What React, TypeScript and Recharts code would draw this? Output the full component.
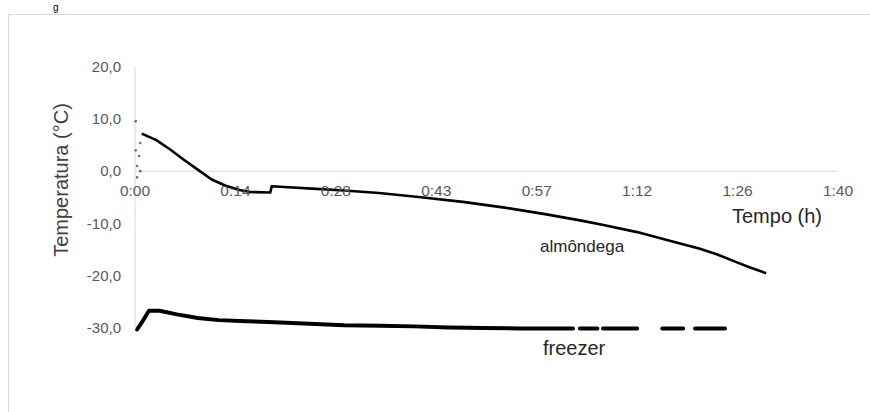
import { ComposedChart, Line, Scatter, XAxis, YAxis, ReferenceLine } from 'recharts'

// time axis in minutes, temperature in °C
const timeTicks = [0, 14.4, 28.8, 43.2, 57.6, 72, 86.4, 100.8]
const timeTickLabels = ['0:00', '0:14', '0:28', '0:43', '0:57', '1:12', '1:26', '1:40']
const tempTicks = [-30, -20, -10, 0, 10, 20]
const tempTickLabels = ['-30,0', '-20,0', '-10,0', '0,0', '10,0', '20,0']

const almondegaTime = [0.96, 3, 5, 7, 9.3, 11, 13, 15, 16.5, 19.4, 19.6, 22, 26, 30, 35, 41, 47, 53, 59, 64, 67, 72, 76, 81, 83.5, 86.5, 88, 90.5]
const almondegaTemp = [7.2, 6.0, 4.2, 2.2, 0, -1.6, -2.8, -3.6, -4.0, -4.1, -2.9, -3.1, -3.4, -3.7, -4.2, -5.0, -5.9, -7.0, -8.3, -9.5, -10.3, -11.7, -13.1, -14.9, -16.0, -17.6, -18.4, -19.6]

// null = gap in the logger record
const freezerTime = [0.3, 1, 2, 3.5, 6, 9, 12, 16, 20, 25, 30, 35, 40, 45, 50, 55, 62.8, 63.3, 63.8, 66.3, 66.7, 67.1, 72, 73.8, 75.6, 78.6, 79.5, 80.3, 84.6]
const freezerTemp = [-30.4, -29, -26.8, -26.8, -27.5, -28.2, -28.6, -28.8, -29.0, -29.3, -29.6, -29.7, -29.8, -30.0, -30.1, -30.2, -30.2, null, -30.2, -30.2, null, -30.2, -30.2, null, -30.2, -30.2, null, -30.2, -30.2]

const probeTime = [0.1, 0.75, 0.1, 0.6, 0.3, 0.75, 0.3]
const probeTemp = [9.6, 5.4, 4.0, 2.9, 1.0, 0.0, -1.2]

const almondegaData = almondegaTime.map((t, i) => ({ t, T: almondegaTemp[i] }))
const freezerData = freezerTime.map((t, i) => ({ t, T: freezerTemp[i] }))
const probeData = probeTime.map((t, i) => ({ t, T: probeTemp[i] }))

const CW = 862
const CH = 398
const MT = 53
const MB = 82.5
const Y_MIN = -30
const Y_MAX = 20
const PLOT_H = CH - MT - MB
const ZERO_SHIFT = (PLOT_H * (0 - Y_MIN)) / (Y_MAX - Y_MIN)

const FONT = '"Liberation Sans", Arial, sans-serif'

function TimeTick(props: any) {
  const { x, y, payload } = props
  const i = timeTicks.indexOf(payload.value)
  return (
    <text x={x} y={y - ZERO_SHIFT + 24} textAnchor="middle" fill="#595959" fontSize={15.5} fontFamily={FONT}>
      {timeTickLabels[i]}
    </text>
  )
}

export default function App() {
  return (
    <div style={{ position: 'fixed', left: 0, top: 0, width: 870, height: 412, overflow: 'hidden', background: '#fff' }}>
      <svg width={870} height={412} style={{ position: 'absolute', left: 0, top: 0 }}>
        <rect x={8.5} y={14.5} width={900} height={440} fill="none" stroke="#d9d9d9" />
        <text x={53} y={11} fontSize={10} fontFamily={FONT} fill="#000">g</text>
      </svg>
      <div style={{ position: 'absolute', left: 8, top: 14 }}>
        <ComposedChart width={CW} height={CH} margin={{ top: MT, right: 32, bottom: MB - 1, left: 0 }}>
          <XAxis
            dataKey="t"
            type="number"
            domain={[0, 100.8]}
            ticks={timeTicks}
            axisLine={false}
            tickLine={false}
            tickSize={0}
            tickMargin={0}
            height={1}
            tick={<TimeTick />}
            interval={0}
          />
          <YAxis
            type="number"
            domain={[Y_MIN, Y_MAX]}
            ticks={tempTicks}
            width={127}
            axisLine={{ stroke: '#d9d9d9' }}
            tickLine={false}
            tickSize={0}
            tickMargin={14}
            tick={{ fill: '#595959', fontSize: 15, fontFamily: FONT }}
            tickFormatter={(v: number) => tempTickLabels[tempTicks.indexOf(v)]}
            interval={0}
          />
          <ReferenceLine y={0} stroke="#d9d9d9" strokeWidth={1} />
          <Scatter data={probeData} dataKey="T" fill="#6f6f6f" isAnimationActive={false}
            shape={(p: any) => <circle cx={p.cx} cy={p.cy} r={1.3} fill="#6f6f6f" />} />
          <Line data={almondegaData} dataKey="T" type="linear" stroke="#000" strokeWidth={2.6} dot={false}
            isAnimationActive={false} strokeLinejoin="round" />
          <Line data={freezerData} dataKey="T" type="linear" stroke="#000" strokeWidth={4} dot={false}
            isAnimationActive={false} connectNulls={false} strokeLinejoin="round" strokeLinecap="round" />
        </ComposedChart>
      </div>
      <svg width={870} height={412} style={{ position: 'absolute', left: 0, top: 0, pointerEvents: 'none' }}>
        <text transform="translate(61,180) rotate(-90)" textAnchor="middle" dominantBaseline="central"
          fontSize={20} fontFamily={FONT} fill="#404040">Temperatura (°C)</text>
        <text x={732} y={222.5} fontSize={20} fontFamily={FONT} fill="#262626">Tempo (h)</text>
        <text x={540} y={252} fontSize={17} fontFamily={FONT} fill="#262626">almôndega</text>
        <text x={543} y={355} fontSize={20} fontFamily={FONT} fill="#262626">freezer</text>
      </svg>
    </div>
  )
}
